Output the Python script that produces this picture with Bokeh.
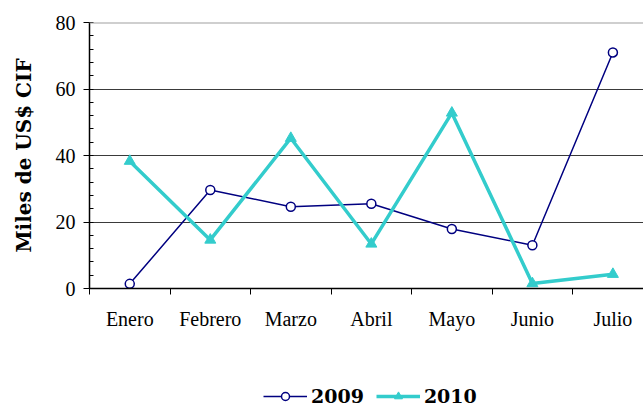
from bokeh.plotting import figure
from bokeh.layouts import column
from bokeh.models import (Range1d, FixedTicker, SingleIntervalTicker, Span, Legend, LegendItem,
                          ColumnDataSource)
from bokeh.embed import file_html
from bokeh.resources import INLINE

months = ["Enero", "Febrero", "Marzo", "Abril", "Mayo", "Junio", "Julio"]
v2009 = [1.4, 29.6, 24.6, 25.5, 17.9, 13.0, 71.0]
v2010 = [38.3, 14.6, 45.2, 13.4, 52.8, 1.5, 4.3]
series_names = ["2009", "2010"]

idx = list(range(len(months)))
src = ColumnDataSource(dict(x=idx, y09=v2009, y10=v2010))

C09 = "#000080"
C10 = "#33CCCC"

p = figure(width=643, height=370, output_backend="svg", toolbar_location=None,
           x_range=Range1d(-0.5, 6.38), y_range=Range1d(0, 80),
           min_border_left=89, min_border_right=0, min_border_top=22, min_border_bottom=82)
p.outline_line_color = None
p.background_fill_color = "white"
p.border_fill_color = "white"

# x axis
p.xaxis.ticker = FixedTicker(ticks=idx, minor_ticks=[i - 0.5 for i in idx])
p.xaxis.major_label_overrides = {i: m for i, m in enumerate(months)}
p.xaxis.major_tick_line_color = None
p.xaxis.major_tick_out = 6
p.xaxis.major_tick_in = 0
p.xaxis.minor_tick_out = 6
p.xaxis.minor_tick_in = 0
p.xaxis.minor_tick_line_color = "black"
p.xaxis.major_label_standoff = 13
p.xaxis.major_label_text_font = "Liberation Serif"
p.xaxis.major_label_text_font_size = "20px"
p.xaxis.major_label_text_color = "black"
p.xaxis.axis_line_color = "black"
p.xaxis.axis_line_width = 1.5

# y axis
p.yaxis.ticker = SingleIntervalTicker(interval=20, num_minor_ticks=5)
p.yaxis.major_tick_out = 6
p.yaxis.major_tick_in = 0
p.yaxis.minor_tick_out = 0
p.yaxis.minor_tick_in = 4
p.yaxis.major_tick_line_color = "black"
p.yaxis.minor_tick_line_color = "black"
p.yaxis.axis_line_color = "black"
p.yaxis.axis_line_width = 1.5
p.yaxis.major_label_standoff = 8
p.yaxis.major_label_text_font = "Liberation Serif"
p.yaxis.major_label_text_font_size = "20px"
p.yaxis.major_label_text_color = "black"
p.yaxis.axis_label = "Miles de US$ CIF"
p.yaxis.axis_label_text_font = "DejaVu Serif"
p.yaxis.axis_label_text_font_style = "bold"
p.yaxis.axis_label_text_font_size = "20px"
p.yaxis.axis_label_text_color = "black"
p.yaxis.axis_label_standoff = 17

# grids
p.xgrid.visible = False
p.ygrid.ticker = FixedTicker(ticks=[20, 40, 60])
p.ygrid.grid_line_color = "#3a3a3a"
p.ygrid.grid_line_width = 1
p.add_layout(Span(location=80, dimension="width", line_color="#a0a0a0", line_width=2))

# series
p.line("x", "y09", source=src, line_color=C09, line_width=1.5)
p.scatter("x", "y09", source=src, marker="circle", size=9, fill_color="white",
          line_color=C09, line_width=1.5)
p.line("x", "y10", source=src, line_color=C10, line_width=3.5)
p.scatter("x", "y10", source=src, marker="triangle", size=11, fill_color=C10, line_color=C10)

# legend strip below the chart (its own data stays out of view; only the legend shows)
q = figure(width=643, height=37, output_backend="svg", toolbar_location=None,
           x_axis_type=None, y_axis_type=None,
           x_range=Range1d(-0.5, 6.38), y_range=Range1d(1000, 1001),
           min_border_left=0, min_border_right=0, min_border_top=0, min_border_bottom=0)
q.outline_line_color = None
q.xgrid.visible = False
q.ygrid.visible = False
ql09 = q.line("x", "y09", source=src, line_color=C09, line_width=1.5)
qm09 = q.scatter("x", "y09", source=src, marker="circle", size=9, fill_color="white",
                 line_color=C09, line_width=1.5)
ql10 = q.line("x", "y10", source=src, line_color=C10, line_width=3.5)
qm10 = q.scatter("x", "y10", source=src, marker="triangle", size=11, fill_color=C10, line_color=C10)

legend = Legend(items=[LegendItem(label=series_names[0], renderers=[ql09, qm09]),
                       LegendItem(label=series_names[1], renderers=[ql10, qm10])],
                orientation="horizontal", location=(174, 0),
                glyph_width=44, glyph_height=20, label_standoff=4, spacing=12,
                padding=0, margin=0, border_line_color=None, background_fill_alpha=0,
                label_text_font="DejaVu Serif", label_text_font_style="bold",
                label_text_font_size="19px", label_text_color="black", label_height=20)
q.add_layout(legend, "center")

layout = column(p, q, spacing=0)
open("out.html", "w").write(file_html(layout, INLINE))
